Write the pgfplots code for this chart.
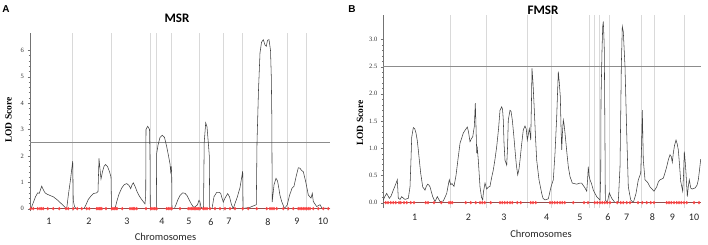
\documentclass[border=0pt]{standalone}
\usepackage{fontspec}
\setmainfont{Liberation Serif}
\newfontfamily\calfont{Carlito}
\newfontfamily\arialfont{Liberation Sans}
\usepackage{pgfplots}
\pgfplotsset{compat=1.18}
\pgfplotsset{lodaxis/.style={
  scale only axis, anchor=south west,
  axis y line*=left, axis x line*=bottom,
  x axis line style={draw=none}, xtick style={draw=none},
  y axis line style={black!55}, ytick style={black!55},
  every y tick/.style={black!55},
  tick align=outside, major tick length=2.5pt, minor tick length=1.3pt,
  minor y tick num=4,
  yticklabel style={font=\fontsize{6.5}{7}\selectfont, text=black!80},
  xticklabel style={font=\calfont\fontsize{10}{11}\selectfont, text=black!85},
  /pgf/number format/assume math mode=true,
  extra x tick labels={},
  extra x tick style={grid=major, major grid style={black!15, line width=0.7pt}, tick style={draw=none}},
  clip=false,
}}
\begin{document}
\begin{tikzpicture}
\useasboundingbox (0,0) rectangle (708pt,245pt);
% ---------------- Panel A ----------------
\begin{axis}[lodaxis, at={(30pt,33.7pt)}, width=300pt, height=178.2pt,
  xmin=30, xmax=330, ymin=-0.1, ymax=6.65,
  ytick={0,1,2,3,4,5,6},
  xtick={49,89,127,162,189,211,229,268,297,323},
  xticklabels={1,2,3,4,5,6,7,8,9,10},
  xticklabel style={yshift=-1pt},
  extra x ticks={72.7,111.7,150.7,156.7,171.7,199.3,223.3,242.7,287.3,306.7},
]
\addplot[black!45, line width=0.6pt] coordinates {(30,2.5) (330,2.5)};
\addplot[black!75, line width=0.55pt] coordinates {
(31,0) (33,0.2) (35.5,0.45) (37.7,0.6) (39.3,0.58) (41.7,0.85) (43.3,0.72) (45,0.6) (47,0.55) (50,0.5) (53.3,0.45) (56,0.37) (58.3,0.3) (61,0.2) (63.3,0.12) (65.7,0.02) (66.7,0) (68.3,0.5) (70.5,1.1) (72.7,1.8) (73.3,0.3) (74.5,0.08) (76,0) (84,0) (86,0.15) (88.3,0.35) (91,0.48) (93.3,0.57) (96.7,0.6) (98,0.65) (99,1.9) (100,1.5) (101,1.12) (102.5,1.4) (104,1.6) (105.5,1.67) (107.5,1.6) (109.5,1.4) (111,1.2) (111.5,0) (115,0) (117,0.3) (119,0.55) (121.7,0.78) (124,0.9) (126.7,0.95) (129,0.88) (130.7,0.76) (132,0.9) (133.3,0.98) (135,0.85) (137,0.65) (139,0.5) (141,0.38) (143,0.28) (145,0.18) (145.7,0.5) (146,3.0) (147.7,3.12) (149.5,3.0) (150,2.0) (150.3,0) (156.3,0) (156.7,2.1) (158,2.4) (160,2.7) (162.3,2.78) (164.5,2.7) (166.7,2.35) (168.5,2.0) (170,1.7) (170.7,1.4) (171.3,1.6) (171.7,1.3) (172,0) (174.3,0) (176,0.15) (178,0.35) (180,0.5) (182.7,0.6) (185,0.58) (187,0.5) (189,0.35) (191,0.2) (193,0.08) (194.3,0.05) (196,0.1) (197.5,0.15) (199,0.32) (200,0.25) (201,0.05) (203.5,0.0) (204.2,2.5) (205.7,3.25) (207,3.1) (208.3,2.5) (209.3,2.0) (209.7,0) (212,0) (214,0.45) (216.7,0.62) (219,0.62) (220.7,0.58) (222,0.4) (223.3,0.25) (225,0.4) (227.7,0.57) (229.5,0.45) (231.5,0.15) (233.3,0) (235,0.2) (237.3,0.44) (240,0.8) (242.7,1.42) (243.1,0) (245,0.02) (250,0.05) (253,0.1) (256.3,0.15) (257,2.5) (258.5,4.5) (260,5.9) (261.5,6.3) (263.3,6.4) (265,6.2) (266.3,6.15) (267.5,6.38) (269,6.4) (270.5,6.0) (271.3,5.0) (271.8,3.5) (272.2,0.25) (274,0.9) (276,1.15) (277.5,1.05) (278.5,0.85) (280,0.5) (281.7,0.27) (284,0.05) (285.5,0.05) (287.3,0.15) (289.5,0.5) (292,0.77) (294,0.85) (296,1.2) (298.3,1.55) (300,1.53) (301.5,1.45) (303.3,1.4) (305.7,1.02) (308.3,0.52) (311,0.4) (312.3,0.58) (313.3,0.27) (316.7,0.08) (320,0.15) (322.3,0.0) (325,0.02) (330,0)};
\addplot[red!40!black!70, line width=0.5pt] coordinates {(30,0) (330,0)};
\addplot[only marks, mark=diamond*, mark size=1.5pt, red!75, opacity=0.8] coordinates {
(30.7,0) (33.3,0) (37.7,0) (40,0) (41.7,0) (43.3,0) (47.7,0) (53.3,0) (59.3,0) (66,0) (68.3,0) (73.3,0) (77.3,0) (81.7,0) (86.7,0) (89.3,0) (96.7,0) (98,0) (99.3,0) (100.3,0) (101.7,0) (106,0) (111.7,0) (113,0) (114.3,0) (116,0) (117,0) (122.3,0) (130,0) (132,0) (133.3,0) (134.7,0) (136.7,0) (146,0) (150.7,0) (152,0) (154,0) (155,0) (156.7,0) (166.7,0) (168.3,0) (170,0) (171.7,0) (180,0) (188.3,0) (190,0) (191.7,0) (193,0) (194.3,0) (195.7,0) (197,0) (198.3,0) (200,0) (203.3,0) (205,0) (207,0) (210,0) (215,0) (220,0) (225,0) (230,0) (235,0) (242.7,0) (248.3,0) (256.7,0) (266.7,0) (270,0) (272,0) (274,0) (276.7,0) (283.3,0) (288.3,0) (293.3,0) (298.3,0) (300,0) (301.7,0) (303.3,0) (305,0) (306.7,0) (308.3,0) (310,0) (313.3,0) (318.3,0) (323.3,0) (328.3,0)};
\end{axis}
% ---------------- Panel B ----------------
\begin{axis}[lodaxis, at={(383.3pt,36.9pt)}, width=317.4pt, height=193.1pt,
  xmin=383.3, xmax=700.7, ymin=-0.1, ymax=3.45,
  ytick={0,0.5,1,1.5,2,2.5,3},
  yticklabel style={/pgf/number format/.cd, fixed, fixed zerofill, precision=1},
  xtick={414.7,468.3,504,546.7,580,608,626.7,652.3,672.3,694},
  xticklabels={1,2,3,4,5,6,7,8,9,10},
  extra x ticks={450,486.7,527.3,551.3,589,594.7,599.5,609.5,641.5,654,684},
]
\addplot[black!45, line width=0.6pt] coordinates {(383.3,2.5) (700.7,2.5)};
\addplot[black!75, line width=0.55pt] coordinates {
(383.3,0.05) (385,0.12) (386.7,0.17) (389.3,0.08) (391,0.12) (393.3,0.23) (395.5,0.33) (397.3,0.42) (398.3,0.08) (400,0.06) (401.7,0.11) (403.5,0.08) (405,0.06) (408.3,0.08) (410,0.29) (411,0.8) (411.7,1.2) (413.3,1.38) (414.7,1.36) (416,1.28) (417.2,1.15) (418.3,0.97) (419.5,0.75) (420.7,0.54) (422.7,0.29) (425,0.23) (426.3,0.3) (427.7,0.34) (429,0.32) (430,0.29) (432.7,0.11) (435,0.02) (437.3,0.11) (440,0.02) (443.3,0.03) (446.7,0.17) (448,0.3) (449.3,0.42) (450.7,0.33) (452,0.35) (454,0.3) (456,0.5) (458,0.8) (460,1.09) (463.3,1.28) (465,1.33) (467.3,1.39) (468.5,1.3) (470,1.12) (471.5,1.18) (472.7,1.21) (474.3,1.4) (475.3,1.83) (476,1.4) (476.7,0.91) (477.3,1.0) (478.3,0.78) (480,0.29) (481.5,0.1) (482.7,0.05) (483.5,0.2) (485,0.36) (486.7,0.25) (488,0.28) (490,0.3) (491.5,0.45) (493.3,0.6) (495,0.8) (496.7,1.03) (498.5,1.35) (500,1.70) (501.7,1.76) (502.5,1.72) (503.3,1.52) (504,1.1) (505,0.78) (506.7,0.69) (507.5,1.0) (508.3,1.52) (510,1.70) (511,1.68) (512.3,1.52) (513.7,1.25) (515,0.97) (516.3,0.7) (517.7,0.51) (519,0.62) (520,0.78) (521.5,1.05) (523.3,1.34) (525,1.41) (526.3,1.35) (527.3,1.15) (528.3,1.25) (529.3,1.36) (530.2,1.25) (530.7,1.15) (531.4,1.8) (532,2.47) (533,2.2) (534.3,1.70) (535.5,1.2) (536.7,0.78) (539,0.42) (541.7,0.17) (543,0.08) (545,0.05) (548.3,0.07) (551,0.29) (553.3,0.42) (555,0.91) (556.7,1.58) (557.5,2.0) (558.3,2.41) (559.3,2.2) (560.3,1.95) (561,1.4) (561.7,0.97) (562.5,1.3) (563.3,1.52) (564,1.45) (565,1.28) (566.7,0.95) (568.3,0.66) (570,0.48) (572.3,0.36) (576.7,0.34) (580,0.36) (581.7,0.36) (583.5,0.31) (585,0.27) (586.7,0.21) (587.5,0.4) (588.3,0.66) (589,0.5) (590,0.42) (591.5,0.35) (593.3,0.23) (596.7,0.11) (600,0.05) (600.7,0.5) (601,1.89) (602,2.8) (602.7,3.24) (603.3,3.33) (604,3.0) (604.3,2.81) (605,1.0) (605.3,0.05) (607.3,0.0) (609.3,0.18) (611.7,0.08) (615,0.0) (618.3,0.02) (620,0.66) (620.7,1.6) (621.3,2.5) (622.3,3.24) (623.3,3.14) (624.2,2.8) (625,2.5) (626.7,1.28) (628.3,0.29) (630.7,0.05) (633.3,0.0) (636,0.17) (638.3,0.42) (640.7,0.54) (641.5,1.0) (642.3,1.70) (643.3,0.78) (645,0.42) (646.7,0.39) (648,0.36) (650,0.29) (652,0.25) (654,0.21) (656.7,0.29) (658.3,0.38) (660,0.42) (663.3,0.45) (665,0.55) (666.7,0.66) (668.5,0.8) (670,0.88) (671.2,0.85) (672.3,0.74) (673.3,0.91) (674.5,1.05) (676,1.15) (677.2,1.08) (678.3,0.97) (679.5,0.7) (680.7,0.39) (682.7,0.21) (683.5,0.5) (684.3,0.94) (685.2,0.75) (686,0.54) (687.3,0.11) (688.3,0.3) (689.3,0.42) (690.7,0.27) (692,0.25) (695,0.27) (697,0.32) (698.3,0.42) (699.5,0.6) (700.7,0.8)};
\addplot[red!40!black!70, line width=0.5pt] coordinates {(383.3,0) (700.7,0)};
\addplot[only marks, mark=diamond*, mark size=1.5pt, red!75, opacity=0.8] coordinates {
(385.7,0) (388,0) (390.7,0) (393.3,0) (395.7,0) (399,0) (400.7,0) (404,0) (406.7,0) (410.7,0) (414,0) (425.7,0) (428,0) (434,0) (441.3,0) (449,0) (450.7,0) (452.3,0) (465.7,0) (470.7,0) (475.7,0) (480,0) (482.3,0) (484.7,0) (490.7,0) (500,0) (502.3,0) (504.7,0) (507.3,0) (510,0) (512.3,0) (517.3,0) (520.7,0) (530.7,0) (533,0) (535.7,0) (550,0) (552.3,0) (554.7,0) (557.3,0) (560,0) (562.3,0) (564.7,0) (573.3,0) (584,0) (588,0) (594.7,0) (597.3,0) (600,0) (602.3,0) (604.7,0) (607.3,0) (610,0) (617.3,0) (620.7,0) (623.3,0) (626.7,0) (630,0) (638,0) (642.3,0) (646.7,0) (650.7,0) (654,0) (666.7,0) (669,0) (671.3,0) (674,0) (676.7,0) (679,0) (681.3,0) (684,0) (686.7,0) (694,0) (699,0)};
\end{axis}
% ---------------- Text ----------------
\node[font=\arialfont\bfseries\fontsize{10}{11}\selectfont] at (6pt,236pt) {A};
\node[font=\arialfont\bfseries\fontsize{10}{11}\selectfont] at (352pt,236pt) {B};
\node[font=\calfont\bfseries\fontsize{13}{14}\selectfont] at (177pt,226.5pt) {MSR};
\node[font=\calfont\bfseries\fontsize{13}{14}\selectfont] at (543pt,235pt) {FMSR};
\node[font=\bfseries\fontsize{9.5}{10}\selectfont, rotate=90] at (8.5pt,125pt) {LOD Score};
\node[font=\bfseries\fontsize{9.5}{10}\selectfont, rotate=90] at (360pt,122pt) {LOD Score};
\node[font=\calfont\fontsize{10.5}{11}\selectfont, text=black!85] at (165.5pt,8pt) {Chromosomes};
\node[font=\calfont\fontsize{10.5}{11}\selectfont, text=black!85] at (541pt,11.3pt) {Chromosomes};
\end{tikzpicture}
\end{document}
